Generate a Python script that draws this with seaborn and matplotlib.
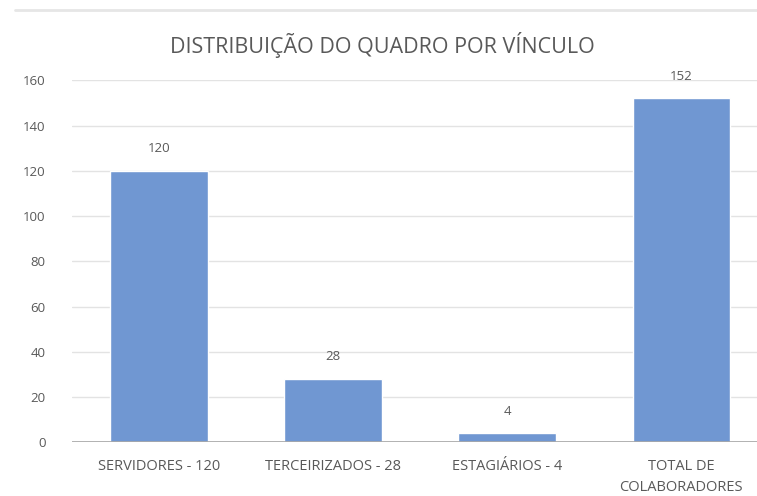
import matplotlib.pyplot as plt
import matplotlib.lines as mlines
import pandas as pd
import seaborn as sns

# Dados do gráfico
categorias = ['SERVIDORES - 120', 'TERCEIRIZADOS - 28', 'ESTAGIÁRIOS - 4', 'TOTAL DE\nCOLABORADORES']
valores = [120, 28, 4, 152]
rotulos = ['120', '28', '4', '152']
y_ticks = [0, 20, 40, 60, 80, 100, 120, 140, 160]

df = pd.DataFrame({'categoria': categorias, 'valor': valores})

sns.set_style('white')
plt.rcParams['font.family'] = ['Open Sans', 'DejaVu Sans']

cinza = '#595959'
fig = plt.figure(figsize=(7.57, 4.96), dpi=100)
ax = fig.add_axes([0.095, 0.108, 0.92, 0.73])

sns.barplot(x='categoria', y='valor', data=df, color='#7097d2', width=0.56,
            saturation=1, ax=ax, zorder=3)

for i, (v, r) in enumerate(zip(valores, rotulos)):
    ax.text(i, v + 7, r, ha='center', va='bottom', fontsize=9.5, color=cinza)

ax.set_ylim(0, 160)
ax.set_yticks(y_ticks)
ax.set_xlim(-0.5, 3.5)
ax.yaxis.grid(True, color='#e3e3e3', linewidth=1, zorder=0)
ax.axhline(0, color='#a6a6a6', linewidth=1.2, zorder=4)
for s in ax.spines.values():
    s.set_visible(False)
ax.tick_params(axis='y', length=0, labelsize=9.5, colors=cinza, pad=19)
ax.tick_params(axis='x', length=0, labelsize=10.5, colors=cinza, pad=12)
for lbl in ax.get_xticklabels():
    lbl.set_linespacing(1.55)
ax.set_xlabel('')
ax.set_ylabel('')

fig.text(0.505, 0.91, 'DISTRIBUIÇÃO DO QUADRO POR VÍNCULO', ha='center', va='center',
         fontsize=15.5, color=cinza)
fig.add_artist(mlines.Line2D([0.02, 1.0], [0.98, 0.98], color='#e6e6e6', linewidth=2))

fig.savefig('out.png', dpi=100)
